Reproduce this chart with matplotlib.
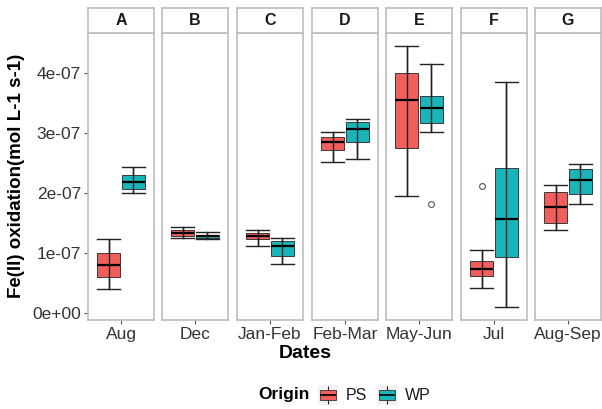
import numpy as np
import matplotlib
matplotlib.use("Agg")
import matplotlib.pyplot as plt
from matplotlib.patches import Rectangle

plt.rcParams['font.family'] = ['Liberation Sans', 'DejaVu Sans']

# Facets, sampling periods and box statistics (units of 1e-07 mol L-1 s-1)
panels = ["A", "B", "C", "D", "E", "F", "G"]
dates = ["Aug", "Dec", "Jan-Feb", "Feb-Mar", "May-Jun", "Jul", "Aug-Sep"]
origins = ["PS", "WP"]

ps_low = [0.40, 1.25, 1.12, 2.51, 1.95, 0.42, 1.38]
ps_q1 = [0.61, 1.28, 1.23, 2.72, 2.75, 0.62, 1.50]
ps_med = [0.81, 1.33, 1.28, 2.85, 3.54, 0.73, 1.77]
ps_q3 = [1.01, 1.38, 1.33, 2.93, 4.00, 0.87, 2.02]
ps_high = [1.23, 1.43, 1.38, 3.02, 4.45, 1.05, 2.13]
ps_out = [[], [], [], [], [], [2.11], []]

wp_low = [2.00, 1.23, 0.82, 2.57, 3.02, 0.10, 1.82]
wp_q1 = [2.07, 1.25, 0.95, 2.85, 3.16, 0.93, 1.99]
wp_med = [2.18, 1.28, 1.12, 3.06, 3.42, 1.57, 2.21]
wp_q3 = [2.30, 1.31, 1.20, 3.18, 3.62, 2.41, 2.40]
wp_high = [2.44, 1.35, 1.25, 3.23, 4.15, 3.85, 2.48]
wp_out = [[], [], [], [], [1.81], [], []]

colors = {"PS": "#F35E5A", "WP": "#17B6BA"}
SCALE = 1e-07
BORDER = "#BDBDBD"


def stats_for(i, low, q1, med, q3, high, out):
    return dict(whislo=low[i] * SCALE, q1=q1[i] * SCALE, med=med[i] * SCALE,
                q3=q3[i] * SCALE, whishi=high[i] * SCALE,
                fliers=np.array(out[i]) * SCALE)


W, H = 602, 409
fig = plt.figure(figsize=(W / 100, H / 100), dpi=100)

lefts = [88, 162, 237, 312, 386, 461, 535]
pw = 66
top, bottom, strip_top = 33, 320, 8
box_w = 0.405
pos = [0.775, 1.225]

for i, name in enumerate(panels):
    ax = fig.add_axes([lefts[i] / W, 1 - bottom / H, pw / W, (bottom - top) / H])
    stats = [stats_for(i, ps_low, ps_q1, ps_med, ps_q3, ps_high, ps_out),
             stats_for(i, wp_low, wp_q1, wp_med, wp_q3, wp_high, wp_out)]
    bp = ax.bxp(stats, positions=pos, widths=box_w, capwidths=box_w,
                patch_artist=True, showfliers=True,
                boxprops=dict(edgecolor="#3a3a3a", linewidth=0.7),
                medianprops=dict(color="black", linewidth=1.6),
                whiskerprops=dict(color="#222222", linewidth=1.0),
                capprops=dict(color="#222222", linewidth=1.0),
                flierprops=dict(marker="o", markerfacecolor="none",
                                markeredgecolor="#555555", markersize=4.2,
                                markeredgewidth=0.8))
    for patch, org in zip(bp["boxes"], origins):
        patch.set_facecolor(colors[org])
    # errorbar line runs through the box
    for p, s in zip(pos, stats):
        ax.vlines(p, s["whislo"], s["whishi"], color="#222222", linewidth=1.0, zorder=3)

    ax.set_xlim(0.4, 1.6)
    ax.set_ylim(-0.111e-07, 4.66e-07)
    ax.set_xticks([1.0])
    ax.set_xticklabels([dates[i]], fontsize=12.5, color="#333333")
    ax.tick_params(axis="x", length=3, color="#555555", pad=2)
    if i == 0:
        ax.set_yticks(np.array([0, 1, 2, 3, 4]) * SCALE)
        ax.set_yticklabels(["0e+00", "1e-07", "2e-07", "3e-07", "4e-07"],
                           fontsize=12.5, color="#333333")
        ax.tick_params(axis="y", length=3, color="#555555", pad=2)
    else:
        ax.set_yticks([])
    for sp in ax.spines.values():
        sp.set_color(BORDER)
        sp.set_linewidth(1.2)

    # facet strip
    sax = fig.add_axes([lefts[i] / W, 1 - top / H, pw / W, (top - strip_top) / H])
    sax.set_xticks([])
    sax.set_yticks([])
    for sp in sax.spines.values():
        sp.set_color(BORDER)
        sp.set_linewidth(1.2)
    sax.text(0.5, 0.5, name, ha="center", va="center", fontsize=11.5,
             fontweight="bold", color="#1a1a1a", transform=sax.transAxes)

fig.text(17 / W, 1 - 176 / H, "Fe(II) oxidation(mol L-1 s-1)", rotation=90,
         ha="center", va="center", fontsize=13.5, fontweight="bold")
fig.text(305 / W, 1 - 353 / H, "Dates", ha="center", va="center",
         fontsize=14, fontweight="bold")

# legend
fig.text(284 / W, 1 - 395 / H, "Origin", ha="center", va="center",
         fontsize=12.5, fontweight="bold")
key_x = {"PS": 318, "WP": 377}
for org in origins:
    kax = fig.add_axes([key_x[org] / W, 1 - 405 / H, 20 / W, 20 / H])
    kax.set_xlim(0, 1)
    kax.set_ylim(0, 1)
    kax.axis("off")
    kax.add_patch(Rectangle((0, 0), 1, 1, facecolor="#F2F2F2", edgecolor="none"))
    kax.vlines(0.5, 0.05, 0.95, color="#222222", linewidth=0.8)
    kax.add_patch(Rectangle((0.1, 0.25), 0.8, 0.5, facecolor=colors[org],
                            edgecolor="#333333", linewidth=0.6, zorder=2))
    kax.hlines(0.5, 0.1, 0.9, color="black", linewidth=1.2, zorder=3)
    fig.text((key_x[org] + 28) / W, 1 - 395 / H, org, ha="left", va="center",
             fontsize=11.5, color="#1a1a1a")

fig.savefig("out.png", dpi=100)
